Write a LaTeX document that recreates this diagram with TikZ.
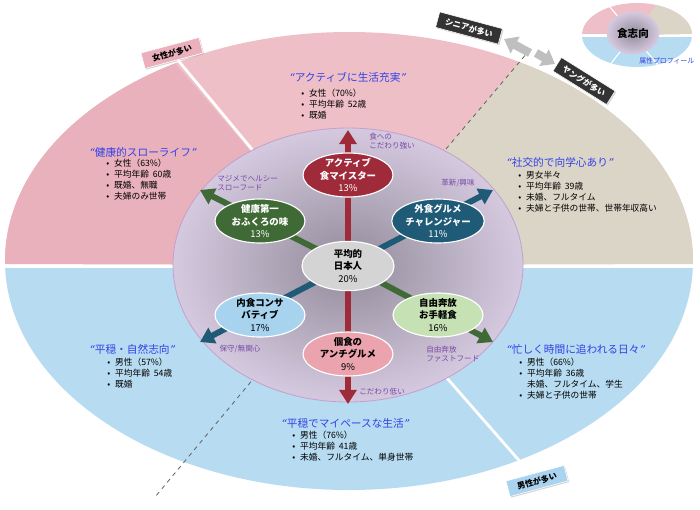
\documentclass[tikz,border=0pt]{standalone}
\usepackage{fontspec}
\setmainfont{Noto Sans CJK JP}
\newfontfamily\quotefont{DejaVu Sans}
\usetikzlibrary{arrows.meta,shapes.geometric,positioning,shadows}

\definecolor{zonepink}{HTML}{EEBFC7}
\definecolor{zonerose}{HTML}{E9B1BB}
\definecolor{zonetan}{HTML}{DBD5C7}
\definecolor{zoneblue}{HTML}{B7DBF0}
\definecolor{coreedge}{HTML}{D5C9DF}
\definecolor{coremid}{HTML}{928B9A}
\definecolor{typered}{HTML}{9E2A3A}
\definecolor{typegreen}{HTML}{3F6A35}
\definecolor{typeteal}{HTML}{1F5A77}
\definecolor{typeblue}{HTML}{A7D3EE}
\definecolor{typelime}{HTML}{C6E2B5}
\definecolor{typepink}{HTML}{EBA4AE}
\definecolor{typegray}{HTML}{D4D4D4}
\definecolor{titleblue}{HTML}{3240E8}
\definecolor{notepurple}{HTML}{7A4AA8}
\definecolor{tagdark}{HTML}{333333}
\definecolor{tagpink}{HTML}{EBB0BB}
\definecolor{tagblue}{HTML}{A9D3EE}

\newcommand\qopen{{\quotefont\itshape “}}
\newcommand\qclose{{\quotefont\itshape ”}}
\newcommand\itm{\makebox[0.9em][l]{•}}
\newcommand\noitm{\makebox[0.9em][l]{}}

\begin{document}
\begin{tikzpicture}[x=0.025cm, y=-0.025cm,
    type/.style={ellipse, draw=white, line width=0.8pt, minimum width=2.25cm, minimum height=1.1cm,
      inner xsep=0pt, inner ysep=-1.5pt, align=center, font=\fontsize{6.7}{8.7}\selectfont\bfseries},
    darktype/.style={type, text=white},
    note/.style={text=notepurple, font=\fontsize{5.4}{6.9}\selectfont, align=left, inner sep=0pt},
    title/.style={text=titleblue, font=\fontsize{7.6}{9}\selectfont, inner sep=0pt, anchor=west},
    facts/.style={font=\fontsize{6.2}{7.9}\selectfont, align=left, inner sep=0pt, anchor=north west},
    tag/.style={draw=white, line width=0.4pt, font=\fontsize{5.8}{6}\selectfont\bfseries, minimum width=1.5cm,
      minimum height=0.4cm, inner sep=1pt, drop shadow={shadow xshift=0.8pt, shadow yshift=-0.8pt, opacity=0.35}},
    arrred/.style={-{Triangle[length=10pt,width=12pt]}, line width=4.2pt, typered},
    arrgreen/.style={-{Triangle[length=10pt,width=12pt]}, line width=4.2pt, typegreen},
    arrteal/.style={-{Triangle[length=10pt,width=12pt]}, line width=4.2pt, typeteal},
    grayarr/.style={-{Triangle[length=9pt,width=13pt]}, line width=6pt, black!25},
    whiteline/.style={white, line width=2pt},
    splitdash/.style={black!60, dashed, line width=0.6pt}
]
\useasboundingbox (0,0) rectangle (700,509);

% outer zones
\begin{scope}
  \clip (349,261) ellipse [x radius=344, y radius=229];
  \fill[zonepink] (0,0) rectangle (700,264);
  \fill[zonerose] (348,265) -- (119,-2) -- (-2,-2) -- (-2,264) -- cycle;
  \fill[zonetan] (348,265) -- (573,-2) -- (700,-2) -- (700,264) -- cycle;
  \fill[zoneblue] (0,268) rectangle (700,509);
\end{scope}
\coordinate (ctr) at (348,265);
\coordinate (sdTop) at (533,46);
\coordinate (sdBot) at (155,497);

% attribute tags
\node[tag, fill=tagpink, rotate=15] (tagF) at (172,53) {女性が多い};
\node[tag, fill=tagblue, rotate=15] (tagM) at (537,481) {男性が多い};
\node[tag, fill=tagdark, text=white, rotate=-15, minimum width=1.62cm] (tagS) at (469,28) {シニアが多い};
\node[tag, fill=tagdark, text=white, rotate=-32, minimum width=1.58cm] (tagY) at (584,81) {ヤングが多い};

\draw[whiteline] (ctr) -- (tagF);
\draw[whiteline] (ctr) -- (tagM);
\draw[splitdash] (ctr) -- (sdTop);
\draw[splitdash] (ctr) -- (sdBot);

\coordinate (seniorA) at (530,53);
\coordinate (seniorT) at (504,39);
\coordinate (youngA) at (536,53);
\coordinate (youngT) at (555,64);
\draw[grayarr] (seniorA) -- (seniorT);
\draw[grayarr] (youngA) -- (youngT);

% food core
\path[draw=coreedge!80!violet, line width=0.6pt, inner color=coremid, outer color=coreedge]
  (ctr) ellipse [x radius=175, y radius=137];

\coordinate (tipN) at (348,130);
\coordinate (tipS) at (348,404);
\coordinate (tipNW) at (200,190);
\coordinate (tipSE) at (493,342);
\coordinate (tipNE) at (493,190);
\coordinate (tipSW) at (200,342);
\draw[arrred] (ctr) -- (tipN);
\draw[arrred] (ctr) -- (tipS);
\draw[arrgreen] (ctr) -- (tipNW);
\draw[arrgreen] (ctr) -- (tipSE);
\draw[arrteal] (ctr) -- (tipNE);
\draw[arrteal] (ctr) -- (tipSW);

\node[darktype, fill=typered] (act) at (348,175) {アクティブ\\食マイスター\\{\mdseries 13\%}};
\node[darktype, fill=typegreen] (ken) at (260,221) {健康第一\\おふくろの味\\{\mdseries 13\%}};
\node[darktype, fill=typeteal] (gai) at (438,221) {外食グルメ\\チャレンジャー\\{\mdseries 11\%}};
\node[type, fill=typegray, minimum width=2.3cm, minimum height=1.23cm] (avg) at (348,266) {平均的\\日本人\\{\mdseries 20\%}};
\node[type, fill=typeblue] (nai) at (260,315) {内食コンサ\\バティブ\\{\mdseries 17\%}};
\node[type, fill=typelime] (jiy) at (438,315) {自由奔放\\お手軽食\\{\mdseries 16\%}};
\node[type, fill=typepink] (kos) at (348,354) {個食の\\アンチグルメ\\{\mdseries 9\%}};

\node[note, anchor=west] (nStrong) at (369,141) {食への\\こだわり強い};
\node[note, anchor=west] (nSlow) at (217,183) {マジメでヘルシー\\スローフード};
\node[note] (nNew) at (458,183) {革新/興味};
\node[note] (nCons) at (240,349) {保守/無関心};
\node[note, anchor=west] (nFast) at (426,354) {自由奔放\\ファストフード};
\node[note, anchor=west] (nLow) at (359,392) {こだわり低い};

% profiles
\node[title] (t1) at (89,152) {\qopen 健康的スローライフ\qclose};
\node[facts] (f1) at (106,158.5) {\itm 女性（63\%）\\\itm 平均年齢\ \ 60歳\\\itm 既婚、無職\\\itm 夫婦のみ世帯};
\node[title] (t2) at (289,77) {\qopen アクティブに生活充実\qclose};
\node[facts] (f2) at (301,88.5) {\itm 女性（70\%）\\\itm 平均年齢\ \ 52歳\\\itm 既婚};
\node[title] (t3) at (506,162) {\qopen 社交的で向学心あり\qclose};
\node[facts] (f3) at (518,170.5) {\itm 男女半々\\\itm 平均年齢\ \ 39歳\\\itm 未婚、フルタイム\\\itm 夫婦と子供の世帯、世帯年収高い};
\node[title] (t4) at (89,349) {\qopen 平穏・自然志向\qclose};
\node[facts] (f4) at (107,357.5) {\itm 男性（57\%）\\\itm 平均年齢\ \ 54歳\\\itm 既婚};
\node[title] (t5) at (281,423) {\qopen 平穏でマイペースな生活\qclose};
\node[facts] (f5) at (292,430.5) {\itm 男性（76\%）\\\itm 平均年齢\ \ 41歳\\\itm 未婚、フルタイム、単身世帯};
\node[title] (t6) at (506,349) {\qopen 忙しく時間に追われる日々\qclose};
\node[facts] (f6) at (519,357.5) {\itm 男性（66\%）\\\itm 平均年齢\ \ 36歳\\\noitm 未婚、フルタイム、学生\\\itm 夫婦と子供の世帯};

% key
\begin{scope}
  \clip (637,35) ellipse [x radius=55, y radius=32];
  \fill[zonepink] (580,0) rectangle (695,34);
  \fill[zonetan] (633,35) -- (662,-2) -- (695,-2) -- (695,34) -- cycle;
  \fill[zoneblue] (580,36.5) rectangle (695,70);
\end{scope}
\coordinate (keyC) at (633,35);
\coordinate (keyNW) at (606,2);
\coordinate (keySW) at (606,70);
\coordinate (keySE) at (662,70);
\draw[white, line width=0.8pt] (keyC) -- (keyNW);
\draw[white, line width=0.8pt] (keyC) -- (keySW);
\draw[white, line width=0.8pt] (keyC) -- (keySE);
\node[ellipse, draw=coreedge, line width=0.5pt, inner color=coremid, outer color=coreedge, minimum width=1.3cm,
  minimum height=1.05cm, inner sep=0pt, font=\fontsize{7.5}{8}\selectfont\bfseries] (keyCore) at (633,33) {食志向};
\node[text=titleblue, font=\fontsize{4.9}{5}\selectfont, inner sep=0pt, anchor=west] (keyLbl) at (639,61) {属性プロフィール};
\end{tikzpicture}
\end{document}
